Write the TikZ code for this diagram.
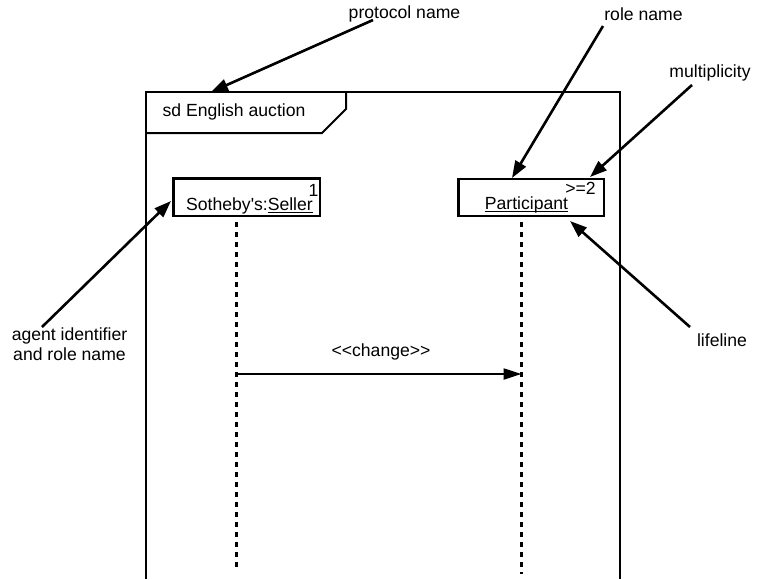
\documentclass[tikz,border=0pt]{standalone}
\usepackage{fontspec}
\newfontfamily\labelfont{Liberation Sans}
\usetikzlibrary{arrows.meta}
% underline drawn with a thicker rule that ignores descenders
\newcommand\ulabel[1]{\vtop{\hbox{\raisebox{0pt}[\height][0pt]{#1}}\kern2pt\hrule height 1.4pt}}
\begin{document}
\begin{tikzpicture}[x=1pt,y=-1pt,
  lbl/.style={inner sep=0pt, font=\labelfont\fontsize{17.6}{20}\selectfont, align=center},
  callout/.style={line width=2.6pt, -{Triangle[length=17pt,width=12pt]}},
  rolebox/.style={draw, line width=2.6pt, inner sep=0pt},
  lifeline/.style={line width=2.2pt, dash pattern=on 4.5pt off 5.5pt},
  frameline/.style={line width=2.2pt},
  tabline/.style={line width=2pt},
  message/.style={line width=2.2pt, -{Triangle[length=18pt,width=11pt]}}]
\useasboundingbox (0,0) rectangle (768,579);

% interaction frame and its name tab
\draw[frameline] (146,579) -- (146,92) -- (620,92) -- (620,579);
\draw[tabline] (146,133) -- (322,133) -- (346,109) -- (346,92);
\node[lbl, anchor=base] (sdName) at (234,116) {sd English auction};

% lifeline heads
\node[rolebox, minimum width=146.5pt, minimum height=37.5pt] (seller) at (246.75,197.25) {};
\node[lbl, anchor=base] (sellerName) at (249.5,210) {Sotheby's:\ulabel{Seller}};
\node[lbl, anchor=base] (sellerMult) at (313.5,196) {1};

\node[rolebox, minimum width=145.5pt, minimum height=37pt] (part) at (531.25,197.5) {};
\node[lbl, anchor=base] (partName) at (526.5,209) {\ulabel{Participant}};
\node[lbl, anchor=base] (partMult) at (580.5,194) {>=2};

% lifelines
\coordinate (sellerLifeTop) at (236.5,222);
\coordinate (sellerLifeEnd) at (236.5,572);
\coordinate (partLifeTop) at (521.5,222);
\coordinate (partLifeEnd) at (521.5,574);
\draw[lifeline] (sellerLifeTop) -- (sellerLifeEnd);
\draw[lifeline] (partLifeTop) -- (partLifeEnd);

% message
\coordinate (msgFrom) at (236.5,374);
\coordinate (msgTo) at (521.5,374);
\draw[message] (msgFrom) -- (msgTo);
\node[lbl, anchor=base] (msgName) at (381,356) {<<change>>};

% annotations
\node[lbl, anchor=base] (protoLbl) at (404.5,18) {protocol name};
\node[lbl, anchor=base] (roleLbl) at (643.5,20) {role name};
\node[lbl, anchor=base] (multLbl) at (710,77) {multiplicity};
\node[lbl, anchor=base] (lifeLbl) at (722,346) {lifeline};
\node[lbl, anchor=center] (agentLbl) at (69.5,344) {agent identifier\\and role name};

\coordinate (protoTail) at (373,20);
\coordinate (protoTip) at (211,92);
\coordinate (roleTail) at (603,26);
\coordinate (roleTip) at (512,178);
\coordinate (multTail) at (692,85);
\coordinate (multTip) at (590,177);
\coordinate (lifeTail) at (690,327);
\coordinate (lifeTip) at (570,221);
\coordinate (agentTail) at (42,327);
\coordinate (agentTip) at (171,201);

\draw[callout] (protoTail) -- (protoTip);
\draw[callout] (roleTail) -- (roleTip);
\draw[callout] (multTail) -- (multTip);
\draw[callout] (lifeTail) -- (lifeTip);
\draw[callout] (agentTail) -- (agentTip);
\end{tikzpicture}
\end{document}
